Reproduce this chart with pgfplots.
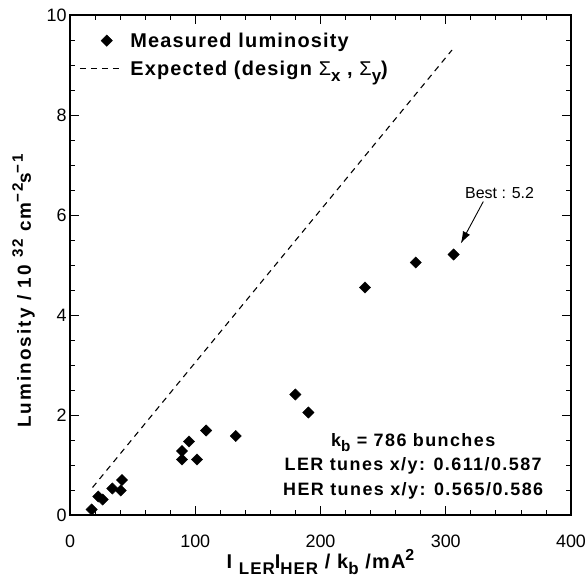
\documentclass[border=0pt]{standalone}
\usepackage{graphicx}
\usepackage{pgfplots}
\pgfplotsset{compat=1.18}
\usetikzlibrary{arrows.meta}
\usepackage{fontspec}
\setmainfont{Liberation Sans}
\newfontfamily\trk[LetterSpace=6]{Liberation Sans}
\newfontfamily\trka[LetterSpace=8]{Liberation Sans}
\newfontfamily\trkw[LetterSpace=11]{Liberation Sans}
\newcommand\lsub[1]{\raisebox{-0.3em}{\scalebox{0.85}{#1}}}
\newcommand\lsup[1]{\raisebox{0.42em}{\scalebox{0.8}{#1}}}
\pgfplotsset{
  mylegmark/.style={legend image code/.code={\draw[mark repeat=2,mark phase=2,##1] plot coordinates {(0bp,0bp) (27bp,0bp) (41bp,0bp)};}},
  mylegline/.style={legend image code/.code={\draw[##1] (0bp,0bp) -- (41bp,0bp);}},
}

\begin{document}
\begin{tikzpicture}
\begin{axis}[
  scale only axis, width=501bp, height=500bp,
  xmin=0, xmax=400, ymin=0, ymax=10,
  xtick={0,100,...,400}, ytick={0,2,...,10},
  minor x tick num=4, minor y tick num=3,
  tick align=inside,
  major tick length=9bp, minor tick length=5bp,
  axis line style={line width=1.2pt},
  every tick/.style={black, line width=0.8pt},
  tick label style={font=\fontsize{18}{18}\selectfont},
  xticklabel style={yshift=-16bp},
  /pgf/number format/assume math mode=true,
  xlabel={\fontsize{20}{22}\selectfont\trk\bfseries I \lsub{LER}I\lsub{HER} / k\lsub{b} /mA\lsup{2}},
  ylabel={\fontsize{19}{22}\selectfont\trkw\bfseries Luminosity / 10 \lsup{32} cm\lsup{−2}s\lsup{−1}},
  xlabel style={yshift=5bp},
  ylabel style={yshift=5bp, xshift=-26bp},
  legend style={draw=none, fill=none, at={(rel axis cs:0.018,0.969)}, anchor=north west,
    font=\fontsize{20}{22}\selectfont\trk\bfseries, row sep=8bp, column sep=7bp, inner sep=0pt},
  legend cell align=left,
]
\addplot[only marks, mark=square*, mark options={rotate=45}, mark size=4bp, black, mylegmark]
  coordinates {
  (17.3,0.11) (22.6,0.37) (26.1,0.31) (33.8,0.53) (40.5,0.49) (41.5,0.70)
  (89.4,1.28) (89.4,1.11) (95.0,1.47) (101.4,1.11) (108.7,1.69) (132.3,1.58)
  (179.9,2.41) (190.3,2.05) (235.5,4.55) (276.0,5.05) (306.3,5.21)
  };
\addlegendentry{Measured luminosity}
\addplot[black, line width=1.1pt, dash pattern=on 6bp off 5bp, mylegline]
  coordinates {(18,0.55) (305,9.3)};
\addlegendentry{Expected (design {\mdseries Σ}\lsub{x} , {\mdseries Σ}\lsub{y})}

\node[font=\fontsize{16}{18}\selectfont] at (axis cs:343,6.44) {Best : 5.2};
\draw[black, line width=0.9pt, -{Latex[length=12bp,width=8bp]}] (axis cs:330,6.27) -- (axis cs:312,5.43);
\node[align=center, anchor=base, font=\fontsize{18}{24.5}\selectfont\trka\bfseries] at (axis cs:274,0.40)
  {k\lsub{b} = 786 bunches\\ LER tunes x/y: 0.611/0.587\\ HER tunes x/y: 0.565/0.586};
\end{axis}
\path (current axis.south west) ++(-70bp,-69bp) coordinate (A);
\path (current axis.north east) ++(16bp,15bp) coordinate (B);
\pgfresetboundingbox
\path (A) rectangle (B);
\end{tikzpicture}
\end{document}
